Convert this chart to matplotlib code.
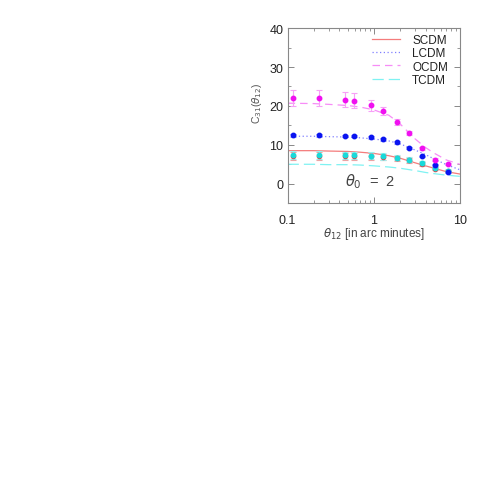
import numpy as np
import matplotlib
matplotlib.use("Agg")
import matplotlib.pyplot as plt

plt.rcParams['font.family'] = ['Liberation Sans', 'DejaVu Sans']
plt.rcParams['mathtext.fontset'] = 'dejavusans'

# puntos medidos (theta_12 en minutos de arco)
theta_pts = [0.117, 0.234, 0.469, 0.586, 0.938, 1.29, 1.88, 2.58, 3.63, 5.16, 7.27]
ocdm_pts = [22.1, 22.0, 21.6, 21.3, 20.2, 18.7, 15.9, 13.0, 9.1, 6.2, 5.1]
ocdm_err = [2.1, 2.1, 2.0, 1.9, 1.4, 1.1, 0.7, 0.5, 0.4, 0.3, 0.3]
lcdm_pts = [12.4, 12.4, 12.3, 12.2, 11.9, 11.4, 10.6, 9.2, 7.0, 4.9, 3.05]
lcdm_err = [0.3, 0.3, 0.3, 0.3, 0.3, 0.3, 0.3, 0.3, 0.2, 0.2, 0.2]
scdm_pts = [7.1, 7.1, 7.1, 7.1, 7.0, 6.8, 6.5, 6.0, 5.1, 3.9, 3.2]
scdm_err = [1.0, 1.0, 0.9, 0.9, 0.9, 0.8, 0.7, 0.6, 0.5, 0.4, 0.3]
tcdm_pts = [7.3, 7.3, 7.3, 7.3, 7.2, 7.0, 6.7, 6.2, 5.3, 4.1, 3.4]
tcdm_err = [1.0, 1.0, 0.9, 0.9, 0.9, 0.8, 0.7, 0.6, 0.5, 0.4, 0.3]

# curvas teoricas
theta_mod = [0.1, 0.2, 0.3, 0.5, 0.7, 1.0, 1.5, 2.0, 3.0, 4.0, 5.0, 7.0, 10.0]
scdm_mod = [8.5, 8.5, 8.4, 8.3, 8.1, 7.8, 7.2, 6.6, 5.4, 4.6, 4.0, 3.1, 2.5]
lcdm_mod = [12.2, 12.2, 12.1, 12.0, 11.8, 11.5, 11.0, 10.3, 8.7, 7.5, 6.4, 4.9, 3.6]
ocdm_mod = [20.7, 20.6, 20.4, 20.1, 19.7, 19.0, 17.6, 15.5, 11.6, 9.3, 7.9, 6.1, 5.0]
tcdm_mod = [5.0, 5.0, 4.9, 4.9, 4.8, 4.6, 4.3, 4.0, 3.4, 2.9, 2.6, 2.2, 1.9]

fig = plt.figure(figsize=(4.85, 4.85), dpi=100)
ax = fig.add_axes([0.593, 0.579, 0.355, 0.361])

ax.plot(theta_mod, scdm_mod, color='#f47c7c', lw=0.9, label='SCDM')
ax.plot(theta_mod, lcdm_mod, color='#7f7fff', lw=0.9, ls=(0, (1, 2)), label='LCDM')
ax.plot(theta_mod, ocdm_mod, color='#f78cf7', lw=0.9, ls=(0, (6, 4)), label='OCDM')
ax.plot(theta_mod, tcdm_mod, color='#7ff2f2', lw=0.9, ls=(0, (9, 4)), label='TCDM')

ax.errorbar(theta_pts, scdm_pts, yerr=scdm_err, fmt='o', color='#e04040', ms=3.0,
            ecolor='#f0a0a0', elinewidth=0.8, capsize=2, capthick=0.8)
ax.errorbar(theta_pts, tcdm_pts, yerr=tcdm_err, fmt='o', color='#19d9d9', ms=3.2,
            ecolor='#9cf0f0', elinewidth=0.8, capsize=2, capthick=0.8)
ax.errorbar(theta_pts, lcdm_pts, yerr=lcdm_err, fmt='o', color='#0a14f0', ms=3.2,
            ecolor='#9aa0ff', elinewidth=0.8, capsize=2, capthick=0.8)
ax.errorbar(theta_pts, ocdm_pts, yerr=ocdm_err, fmt='o', color='#f010f0', ms=3.2,
            ecolor='#f7a0f7', elinewidth=0.8, capsize=2, capthick=0.8)

ax.set_xscale('log')
ax.set_xlim(0.1, 10)
ax.set_ylim(-5, 40)
ax.set_yticks([0, 10, 20, 30, 40])
ax.set_yticks(np.arange(-5, 41, 5), minor=True)
ax.set_xticks([0.1, 1, 10])
ax.set_xticklabels(['0.1', '1', '10'])

for s in ax.spines.values():
    s.set_color('#888888')
    s.set_linewidth(0.8)
ax.tick_params(which='both', direction='in', top=True, right=True, colors='#888888',
               labelcolor='#222222', labelsize=9)
ax.tick_params(which='major', length=4, width=0.7, pad=3)
ax.tick_params(which='minor', length=2.2, width=0.6)
ax.tick_params(axis='x', which='major', pad=8)

ax.set_xlabel(r'$\theta_{12}$ [in arc minutes]', fontsize=8.5, color='#444444')
ax.set_ylabel(r'C$_{31}$($\theta_{12}$)', fontsize=7.5, color='#555555')
ax.xaxis.set_label_coords(0.5, -0.172)
ax.xaxis.label.set_va('center')
ax.yaxis.set_label_coords(-0.18, 0.575)
ax.yaxis.label.set_va('center')

ax.text(0.48, 0.127, r'$\theta_0$  =  2', transform=ax.transAxes, fontsize=10.5,
        color='#444444', ha='center', va='center')

ax.legend(loc='upper left', bbox_to_anchor=(0.49, 0.965), frameon=False, fontsize=8.5,
          handlelength=2.4, handletextpad=1.0, labelspacing=0.1, borderpad=0,
          borderaxespad=0, labelcolor='#222222')

fig.savefig('out.png', dpi=100)
